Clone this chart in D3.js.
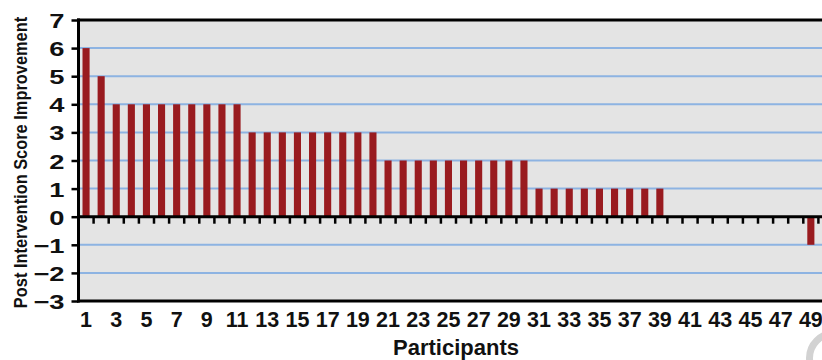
<!DOCTYPE html>
<html>
<head>
<meta charset="utf-8">
<script src="https://cdn.jsdelivr.net/npm/d3@7"></script>
<style>
  html, body { margin: 0; padding: 0; background: #fff; }
  svg { display: block; }
  text { font-family: "Liberation Sans", Arial, sans-serif; font-weight: bold; fill: #111; }
</style>
</head>
<body>
<svg id="chart" width="822" height="360"></svg>
<script>
// Participants and their post-intervention score change
const participants = d3.range(1, 50);
const improvement = [
  6, 5,
  4, 4, 4, 4, 4, 4, 4, 4, 4,
  3, 3, 3, 3, 3, 3, 3, 3, 3,
  2, 2, 2, 2, 2, 2, 2, 2, 2, 2,
  1, 1, 1, 1, 1, 1, 1, 1, 1,
  0, 0, 0, 0, 0, 0, 0, 0, 0,
  -1
];
const yTicks = [7, 6, 5, 4, 3, 2, 1, 0, -1, -2, -3];
const xTickLabels = participants.filter(p => p % 2 === 1);

const svg = d3.select("#chart");
const step = 15.1;
const plotLeft = 78.5, plotTop = 20, plotBottom = 301;
const plotRight = plotLeft + 50 * step;   // frame spans 50 participant slots

const x = d3.scaleBand()
  .domain(participants)
  .range([plotLeft, plotLeft + participants.length * step])
  .paddingInner(0.53)
  .paddingOuter(0.265);

const y = d3.scaleLinear().domain([-3, 7]).range([plotBottom, plotTop]);

// plot area
svg.append("rect")
  .attr("x", plotLeft).attr("y", plotTop)
  .attr("width", plotRight - plotLeft).attr("height", plotBottom - plotTop)
  .attr("fill", "#e4e4e4");

// horizontal gridlines
svg.append("g").selectAll("line")
  .data(yTicks.filter(v => v !== 7 && v !== 0 && v !== -3))
  .join("line")
  .attr("x1", plotLeft).attr("x2", plotRight)
  .attr("y1", d => y(d)).attr("y2", d => y(d))
  .attr("stroke", "#8db3e2").attr("stroke-width", 2);

// bars
svg.append("g").selectAll("rect")
  .data(participants.map((p, i) => ({ p, v: improvement[i] })))
  .join("rect")
  .attr("x", d => x(d.p))
  .attr("width", x.bandwidth())
  .attr("y", d => y(Math.max(0, d.v)))
  .attr("height", d => Math.abs(y(d.v) - y(0)))
  .attr("fill", "#991b1f");

// frame lines: top, bottom, zero line
[7, -3, 0].forEach(v => {
  svg.append("line")
    .attr("x1", plotLeft - 1.5).attr("x2", plotRight)
    .attr("y1", y(v)).attr("y2", y(v))
    .attr("stroke", "#000").attr("stroke-width", 3);
});

// y axis
const yAxis = d3.axisLeft(y).tickValues(yTicks).tickSize(7).tickPadding(9).tickFormat(d3.format("d"));
const gy = svg.append("g").attr("transform", `translate(${plotLeft},0)`).call(yAxis);
gy.select(".domain").attr("stroke", "#000").attr("stroke-width", 3)
  .attr("d", `M0,${plotTop - 1.5}V${plotBottom + 1.5}`);
gy.selectAll(".tick line").attr("stroke", "#000").attr("stroke-width", 2.5);
gy.selectAll(".tick text")
  .attr("font-size", 21)
  .attr("font-family", "Liberation Sans, Arial, sans-serif")
  .attr("font-weight", "bold")
  .attr("fill", "#111")
  .attr("dy", "0.36em")
  .attr("x", null)
  .attr("transform", "translate(-14,0) scale(1.3,1)");

// tick marks between participants below the zero line
svg.append("g").selectAll("line")
  .data(participants)
  .join("line")
  .attr("x1", d => x(d) - x.step() * x.paddingInner() / 2 + x.step())
  .attr("x2", d => x(d) - x.step() * x.paddingInner() / 2 + x.step())
  .attr("y1", y(0)).attr("y2", y(0) + 7)
  .attr("stroke", "#000").attr("stroke-width", 2.5);

// x tick labels
svg.append("g").selectAll("text")
  .data(xTickLabels)
  .join("text")
  .attr("x", d => x(d) + x.bandwidth() / 2)
  .attr("y", 327)
  .attr("text-anchor", "middle")
  .attr("font-size", 21.5)
  .text(d => d);

// axis titles
svg.append("text")
  .attr("x", (plotLeft + plotRight) / 2).attr("y", 354.5)
  .attr("text-anchor", "middle")
  .attr("font-size", 22)
  .text("Participants");

svg.append("text")
  .attr("transform", "translate(27,162.5) rotate(-90) scale(1,1.1)")
  .attr("text-anchor", "middle")
  .attr("font-size", 16.4)
  .text("Post Intervention Score Improvement");

// faint ring in the lower right corner
svg.append("circle")
  .attr("cx", 834).attr("cy", 358).attr("r", 24.5)
  .attr("fill", "none").attr("stroke", "#d2d2d2").attr("stroke-width", 7);
</script>
</body>
</html>
